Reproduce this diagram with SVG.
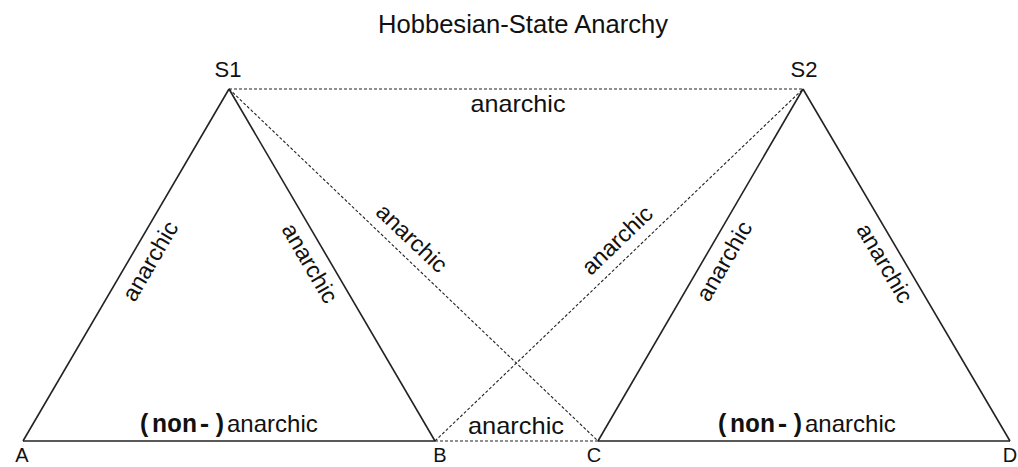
<svg xmlns="http://www.w3.org/2000/svg" width="1018" height="467" viewBox="0 0 1018 467">
<style>
.solid{stroke:#222;stroke-width:1.6;fill:none}
.dot{stroke:#222;stroke-width:1.1;fill:none;stroke-dasharray:3 2}
.t{font-family:"Liberation Sans",Arial,sans-serif;fill:#111}
.m{font-family:"Liberation Mono","Courier New","DejaVu Sans Mono",monospace;font-weight:bold}
.r{font-family:"Liberation Sans",Arial,sans-serif;fill:#111;font-size:23px;text-anchor:middle;dominant-baseline:central}
</style>
<rect width="1018" height="467" fill="#fff"/>
<text class="t" x="523" y="33" font-size="25" text-anchor="middle" textLength="290" lengthAdjust="spacingAndGlyphs">Hobbesian-State Anarchy</text>
<g id="connectors">
<line class="solid" x1="23" y1="441" x2="229" y2="89"/>
<line class="solid" x1="229" y1="89" x2="435" y2="441"/>
<line class="solid" x1="23" y1="441" x2="435" y2="441"/>
<line class="solid" x1="598" y1="441" x2="803" y2="89"/>
<line class="solid" x1="803" y1="89" x2="1010" y2="441"/>
<line class="solid" x1="598" y1="441" x2="1010" y2="441"/>
<line class="dot" x1="229" y1="89" x2="803" y2="89"/>
<line class="dot" x1="435" y1="441" x2="598" y2="441"/>
<line class="dot" x1="229" y1="89" x2="598" y2="441"/>
<line class="dot" x1="435" y1="441" x2="803" y2="89"/>
<text class="t" x="518" y="112" font-size="24" text-anchor="middle" textLength="95" lengthAdjust="spacingAndGlyphs">anarchic</text>
<text class="t" x="516" y="434" font-size="24" text-anchor="middle" textLength="96" lengthAdjust="spacingAndGlyphs">anarchic</text>
<text class="r" transform="translate(150,261) rotate(-59.7)" textLength="88" lengthAdjust="spacingAndGlyphs">anarchic</text>
<text class="r" transform="translate(310,263) rotate(59.7)" textLength="88" lengthAdjust="spacingAndGlyphs">anarchic</text>
<text class="r" transform="translate(412,238) rotate(43.6)" textLength="88" lengthAdjust="spacingAndGlyphs">anarchic</text>
<text class="r" transform="translate(617,240) rotate(-43.7)" textLength="88" lengthAdjust="spacingAndGlyphs">anarchic</text>
<text class="r" transform="translate(724,261) rotate(-59.8)" textLength="88" lengthAdjust="spacingAndGlyphs">anarchic</text>
<text class="r" transform="translate(885,263) rotate(59.5)" textLength="88" lengthAdjust="spacingAndGlyphs">anarchic</text>
<text class="t" x="137" y="432" font-size="24"><tspan class="m" font-size="25">(non-)</tspan>anarchic</text>
<text class="t" x="715" y="432" font-size="24"><tspan class="m" font-size="25">(non-)</tspan>anarchic</text>
</g>
<g id="S1"><text class="t" x="228" y="77" font-size="22" text-anchor="middle">S1</text></g>
<g id="S2"><text class="t" x="804" y="77" font-size="22" text-anchor="middle">S2</text></g>
<g id="A"><text class="t" x="22" y="462" font-size="20" text-anchor="middle">A</text></g>
<g id="B"><text class="t" x="440" y="462" font-size="20" text-anchor="middle">B</text></g>
<g id="C"><text class="t" x="594" y="462" font-size="20" text-anchor="middle">C</text></g>
<g id="D"><text class="t" x="1010" y="462" font-size="20" text-anchor="middle">D</text></g>
</svg>
